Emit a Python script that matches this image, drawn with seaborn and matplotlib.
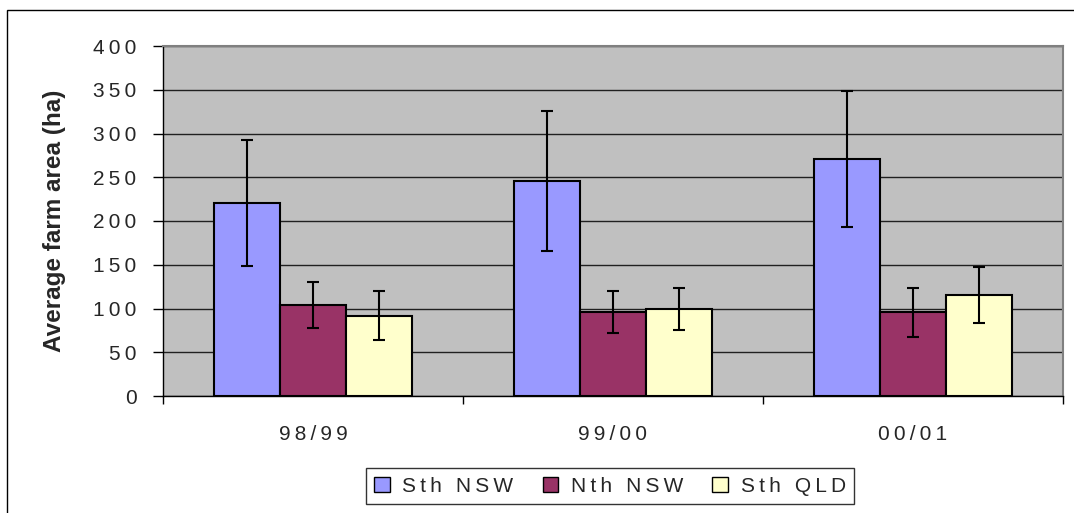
import matplotlib
matplotlib.use("Agg")
import matplotlib.pyplot as plt
import seaborn as sns
import pandas as pd
import numpy as np
from matplotlib.patches import Rectangle, Patch
from matplotlib.ticker import FixedLocator

years = ["98/99", "99/00", "00/01"]
regions = ["Sth NSW", "Nth NSW", "Sth QLD"]
sth_nsw = [221, 246, 271]
nth_nsw = [104, 96, 96]
sth_qld = [92, 99, 115]
sth_nsw_err = [72, 80, 78]
nth_nsw_err = [26, 24, 28]
sth_qld_err = [28, 24, 32]
colors = ["#9999FF", "#993366", "#FFFFCC"]
yticks = [0, 50, 100, 150, 200, 250, 300, 350, 400]


def spaced(s):
    # mimic the wide letter spacing of the original rendering
    return "\u2009".join(s)


rows = []
for r, vals, errs in zip(regions, [sth_nsw, nth_nsw, sth_qld], [sth_nsw_err, nth_nsw_err, sth_qld_err]):
    for y, v, e in zip(years, vals, errs):
        rows.append({"year": y, "region": r, "area": v, "err": e})
df = pd.DataFrame(rows)

sns.set_style("white")
plt.rcParams["font.family"] = ["Liberation Sans", "DejaVu Sans"]

fig = plt.figure(figsize=(10.74, 5.13), dpi=100)
ax = fig.add_axes([163/1074, 1-396/513, 900/1074, 350/513])
ax.set_facecolor("#C0C0C0")

sns.barplot(data=df, x="year", y="area", hue="region", order=years, hue_order=regions,
            palette=colors, width=0.66, errorbar=None, edgecolor="black", linewidth=1.5,
            saturation=1, ax=ax, zorder=3)

# error bars at bar centres
for patch_group, r in zip(ax.containers, regions):
    sub = df[df.region == r].set_index("year").loc[years]
    xs = [p.get_x() + p.get_width()/2 for p in patch_group]
    ax.errorbar(xs, sub["area"].values, yerr=sub["err"].values, fmt="none",
                ecolor="black", elinewidth=1.5, capsize=4, capthick=1.5, zorder=4)

ax.set_ylim(0, 400)
ax.set_xlim(-0.5, 2.5)
ax.set_yticks(yticks)
ax.set_yticklabels([spaced(str(t)) for t in yticks], fontsize=15)
ax.yaxis.grid(True, color="#202020", linewidth=1)
ax.set_axisbelow(True)
for gl in ax.get_ygridlines():
    gl.set_zorder(1)

ax.set_xticks(range(len(years)))
ax.set_xticklabels([spaced(y) for y in years], fontsize=15)
ax.xaxis.set_minor_locator(FixedLocator([-0.5, 0.5, 1.5, 2.5]))
ax.tick_params(axis="x", which="major", length=0, pad=21)
ax.tick_params(axis="x", which="minor", length=6, width=1, color="black", direction="out", bottom=True)
ax.tick_params(axis="y", length=7, width=1, color="black", direction="out", left=True, pad=12)

ax.set_xlabel("")
ax.set_ylabel("Average farm area (ha)", fontsize=17.5, fontweight="bold")
ax.yaxis.set_label_coords((66-163)/900, 0.5)

for s in ["left", "bottom"]:
    ax.spines[s].set_color("black")
    ax.spines[s].set_linewidth(1)
for s in ["top", "right"]:
    ax.spines[s].set_color("#808080")
    ax.spines[s].set_linewidth(1.5)

ax.legend_.remove()
handles = [Patch(facecolor=c, edgecolor="black", linewidth=1) for c in colors]
leg = fig.legend(handles, [spaced(r) for r in regions], loc="center",
                 bbox_to_anchor=(610/1074, 1-486/513),
                 ncol=3, fontsize=15, frameon=True, fancybox=False, edgecolor="black",
                 handlelength=0.75, handleheight=0.75, handletextpad=0.6, columnspacing=1.4,
                 borderpad=0.4, borderaxespad=0)
leg.get_frame().set_linewidth(1)

fig.patches.append(Rectangle((7/1074, -0.1), 1.2, (1-10/513)+0.1, transform=fig.transFigure,
                             fill=False, edgecolor="black", linewidth=1))

fig.savefig("out.png", dpi=100)
